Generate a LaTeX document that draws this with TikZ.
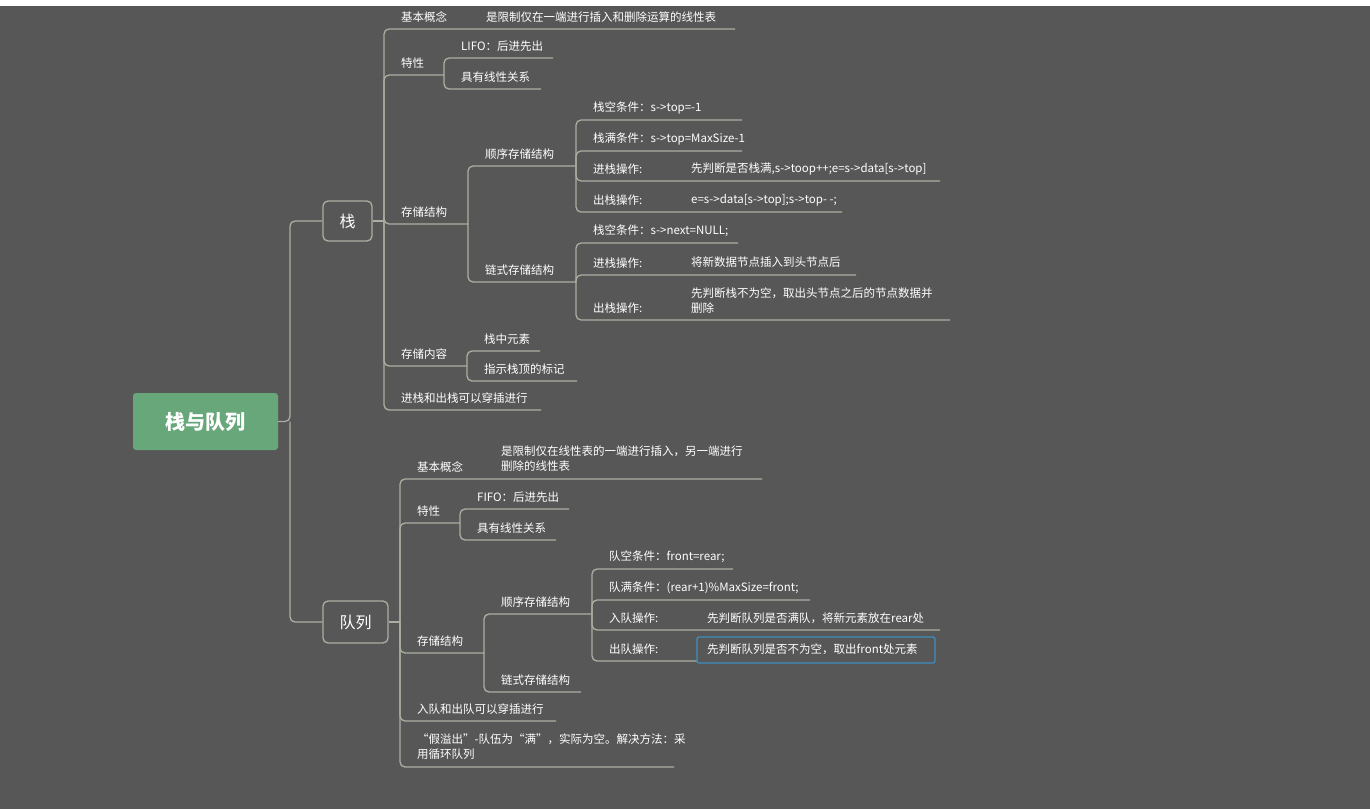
\documentclass[tikz,border=0pt]{standalone}
\usepackage{fontspec}
\newfontfamily\cjk{Noto Sans CJK SC}
\definecolor{bgc}{HTML}{575757}
\definecolor{linec}{HTML}{A9B0A2}
\definecolor{rootc}{HTML}{68A779}
\definecolor{selc}{HTML}{3E8EC0}
\tikzset{
  conn/.style={draw=linec, line width=1.3pt, rounded corners=5pt},
  lbl/.style={text=white, anchor=west, inner sep=0pt, align=left,
    font=\cjk\fontsize{11.5}{15}\selectfont},
  topic/.style={draw=linec, line width=1.3pt, rounded corners=5pt, text=white,
    font=\cjk\fontsize{16}{18}\selectfont, inner sep=0pt}
}
% leaf: name, branch x, parent y, underline y, end x, text
\newcommand\leaf[6]{%
  \node[lbl] (#1) at (#2+17,#4-12) {#6};
  \draw[conn] (#2,#3) |- (#5,#4);
}
\begin{document}
\begin{tikzpicture}[x=1pt,y=-1pt]
\fill[white] (0,0) rectangle (1370,809);
\fill[bgc] (0,6) rectangle (1370,809);
\useasboundingbox (0,0) rectangle (1370,809);

% root and main topics
\node[fill=rootc, rounded corners=3pt, minimum width=145, minimum height=57,
  text=white, font=\cjk\bfseries\fontsize{20}{22}\selectfont] (root) at (205.5,421.5) {栈与队列};
\node[topic, minimum width=49, minimum height=40] (stack) at (347.5,221) {栈};
\node[topic, minimum width=65, minimum height=42] (queue) at (355.5,622) {队列};
\draw[conn] (root.east) -- (290,421.5) |- (stack.west);
\draw[conn] (290,421.5) |- (queue.west);

% stack
\draw[conn] (stack.east) -- (384,221);
\leaf{sbase}{384}{221}{29}{735}{基本概念}
\node[lbl] (sbasev) at (486,17) {是限制仅在一端进行插入和删除运算的线性表};
\leaf{sprop}{384}{221}{75}{444}{特性}
\leaf{slifo}{444}{75}{58}{553}{LIFO：后进先出}
\leaf{slin}{444}{75}{89}{541}{具有线性关系}
\leaf{sstore}{384}{221}{224}{468}{存储结构}
\leaf{sseq}{468}{224}{166}{576}{顺序存储结构}
\leaf{sseqa}{576}{166}{120}{742}{栈空条件：s->top=-1}
\leaf{sseqb}{576}{166}{151}{742}{栈满条件：s->top=MaxSize-1}
\leaf{sseqc}{576}{166}{181}{940}{进栈操作:}
\node[lbl] (sseqcv) at (691,169) {先判断是否栈满,s->toop++;e=s->data[s->top]};
\leaf{sseqd}{576}{166}{212}{842}{出栈操作:}
\node[lbl] (sseqdv) at (691,200) {e=s->data[s->top];s->top- -;};
\leaf{slnk}{468}{224}{282}{576}{链式存储结构}
\leaf{slnka}{576}{282}{243}{738}{栈空条件：s->next=NULL;}
\leaf{slnkb}{576}{282}{275}{856}{进栈操作:}
\node[lbl] (slnkbv) at (691,262) {将新数据节点插入到头节点后};
\leaf{slnkc}{576}{282}{320}{950}{出栈操作:}
\node[lbl] (slnkcv) at (691,301) {先判断栈不为空，取出头节点之后的节点数据并\\删除};
\leaf{scont}{384}{221}{366}{467}{存储内容}
\leaf{sconta}{467}{366}{351}{540}{栈中元素}
\leaf{scontb}{467}{366}{381}{577}{指示栈顶的标记}
\leaf{smix}{384}{221}{410}{541}{进栈和出栈可以穿插进行}

% queue
\draw[conn] (queue.east) -- (400,622);
\leaf{qbase}{400}{622}{479}{762}{基本概念}
\node[lbl] (qbasev) at (501,459) {是限制仅在线性表的一端进行插入，另一端进行\\删除的线性表};
\leaf{qprop}{400}{622}{523}{460}{特性}
\leaf{qfifo}{460}{523}{509}{569}{FIFO：后进先出}
\leaf{qlin}{460}{523}{540}{556}{具有线性关系}
\leaf{qstore}{400}{622}{653}{484}{存储结构}
\leaf{qseq}{484}{653}{614}{592}{顺序存储结构}
\leaf{qseqa}{592}{614}{569}{733}{队空条件：front=rear;}
\leaf{qseqb}{592}{614}{600}{810}{队满条件：(rear+1)\%MaxSize=front;}
\leaf{qseqc}{592}{614}{630}{940}{入队操作:}
\node[lbl] (qseqcv) at (707,618) {先判断队列是否满队，将新元素放在rear处};
\leaf{qseqd}{592}{614}{661}{697}{出队操作:}
\node[lbl] (qseqdv) at (707,649) {先判断队列是否不为空，取出front处元素};
\draw[selc, line width=1.2pt, rounded corners=2pt] (697,637) rectangle (935,663);
\leaf{qlnk}{484}{653}{692}{581}{链式存储结构}
\leaf{qmix}{400}{622}{721}{556}{入队和出队可以穿插进行}
\draw[conn] (400,622) |- (674,767);
\node[lbl] (qfalse) at (417,747) {“假溢出”-队伍为“满”，实际为空。解决方法：采\\用循环队列};
\end{tikzpicture}
\end{document}
